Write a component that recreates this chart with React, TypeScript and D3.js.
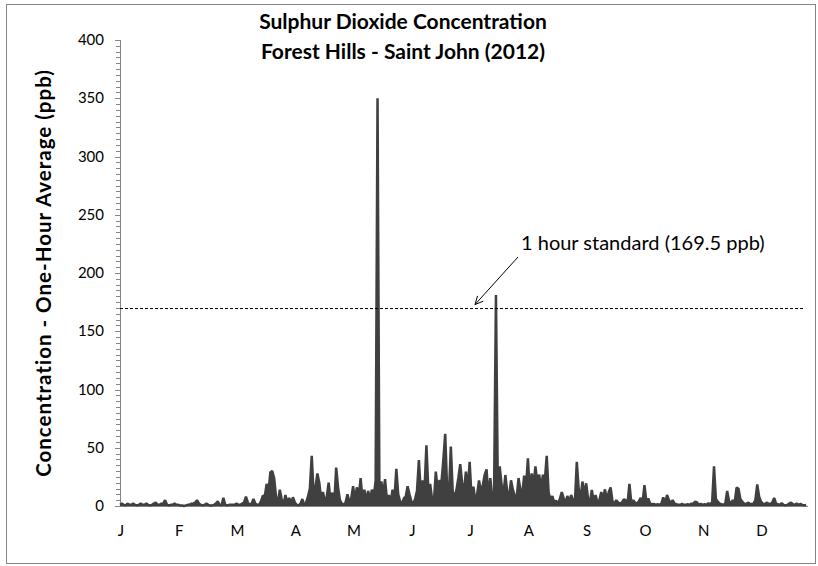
import React from 'react';
import * as d3 from 'd3';

// ---- data (daily maxima of one-hour SO2 averages, ppb) ----
const jan = [1, 2, 1, 0.5, 2, 1, 1, 2, 1, 0.5, 1, 2, 1, 1, 2, 1, 0.5, 1, 2, 3, 1, 1, 2, 2, 5, 1, 0.5, 1, 1, 2, 1];
const feb = [1, 0.5, 0.5, 0, 0.5, 1, 1, 2, 2, 3, 5, 2, 1, 0.5, 1, 2, 1, 0.5, 0.5, 1, 2, 4, 1, 0.5, 7, 1, 0.5, 1, 1];
const mar = [1, 1, 2, 1, 1, 2, 3, 8, 3, 1, 2, 6, 2, 1, 1, 4, 9, 8, 19, 12, 29, 30, 24, 8, 2, 14, 6, 1, 9.5, 3, 7];
const apr = [2, 7.5, 3, 1, 0.5, 2, 6, 1, 3, 8, 15, 43, 10, 16, 28, 20, 6, 12, 3, 8, 20, 4, 11.5, 2, 33, 16, 5, 2, 1, 3];
const may = [10, 4, 6, 17, 5, 16, 8, 24, 6, 14, 4, 13, 5, 14, 8, 22, 350, 12, 21, 10, 23, 5, 9.4, 3, 14, 6, 32, 10, 4, 2, 6.6];
const jun = [8, 17, 10, 4, 2, 6, 13, 39.5, 12, 22, 14, 52, 15, 19, 6, 4, 29.5, 14, 22, 20, 39.5, 62, 16, 10, 51, 12, 8, 14, 24, 36];
const jul = [20, 12, 29.5, 14, 38, 8, 16.6, 5, 10, 22, 12, 18, 26.6, 31.5, 8, 24, 6, 12, 181, 14, 34, 18, 10, 26.6, 12, 8, 22, 14, 9, 6, 24];
const aug = [14, 10, 26, 16, 41, 12, 28, 18, 34, 20, 27, 15, 27, 22, 43, 12, 5, 8.6, 3, 4.6, 2, 6, 12, 7, 3, 8.6, 4, 9.4, 5, 3, 38];
const sep = [15, 6, 21, 10, 19.5, 6, 3, 13.7, 4, 9.4, 3, 5, 12, 6, 14.3, 5, 12, 16, 4, 2, 5, 3, 2, 3, 5.7, 5, 2, 19, 3, 5];
const oct = [3, 2, 4, 7, 3, 18, 4, 6.6, 2, 1.5, 1.7, 1, 1.5, 1, 2, 7.4, 2, 9.4, 5, 2, 5, 2, 1.5, 1, 1, 1.7, 1, 1, 1.5, 1, 2];
const nov = [2, 3.7, 3, 1, 1.7, 1, 1.5, 1, 2.3, 1.5, 3, 34, 6, 3.7, 2, 1.5, 1, 2, 13, 4, 2, 5, 3, 15.7, 15, 6, 3.7, 2, 1.5, 2.9];
const dec = [2, 1.5, 2, 5, 18.6, 8, 3.7, 2, 1.5, 2.9, 2, 1.5, 3, 6.9, 2, 1.5, 1, 2.3, 1, 0.5, 1, 2, 2.9, 1.5, 1, 2, 1, 1.7, 1, 0.5, 1];

const monthLabels = ['J', 'F', 'M', 'A', 'M', 'J', 'J', 'A', 'S', 'O', 'N', 'D'];
const labelIntervalDays = 31;
const yTickValues = [0, 50, 100, 150, 200, 250, 300, 350, 400];
const yMinorStep = 5;
const standardValue = 169.5;
const titleLines = ['Sulphur Dioxide Concentration', 'Forest Hills - Saint John (2012)'];
const yTitle = 'Concentration - One-Hour Average (ppb)';
const annotation = '1 hour standard (169.5 ppb)';

const series = [...jan, ...feb, ...mar, ...apr, ...may, ...jun, ...jul, ...aug, ...sep, ...oct, ...nov, ...dec];

const FONT = "Lato, 'Open Sans', sans-serif";

export default function App() {
  const W = 818;
  const H = 566;
  const left = 120;
  const right = 808;
  const top = 40;
  const bottom = 506;

  const x = d3.scaleLinear().domain([0, 366]).range([left, right]);
  const y = d3.scaleLinear().domain([0, 400]).range([bottom, top]);

  const area = d3
    .area<number>()
    .x((_, i) => x(i))
    .y0(y(0))
    .y1((d) => y(d));
  const line = d3
    .line<number>()
    .x((_, i) => x(i))
    .y((d) => y(d));

  const minorTicks = d3.range(0, 400 + 0.001, yMinorStep);
  const axisColor = '#868686';
  const dataColor = '#404040';

  // annotation arrow geometry
  const ax1 = 518, ay1 = 257;
  const ax2 = 475, ay2 = y(standardValue) - 4;
  const ang = Math.atan2(ay1 - ay2, ax1 - ax2);
  const hl = 9;
  const hw = 0.45;
  const h1 = [ax2 + hl * Math.cos(ang - hw), ay2 + hl * Math.sin(ang - hw)];
  const h2 = [ax2 + hl * Math.cos(ang + hw), ay2 + hl * Math.sin(ang + hw)];

  return (
    <svg
      width={W}
      height={H}
      style={{ position: 'absolute', left: 0, top: 0, background: '#fff' }}
      fontFamily={FONT}
    >
      <rect x={0} y={0} width={W} height={H} fill="#fff" />
      <rect x={6.5} y={4.5} width={809} height={559} fill="none" stroke={axisColor} strokeWidth={1} />

      {/* title */}
      {titleLines.map((t, i) => (
        <text key={i} x={403} y={29 + i * 30} textAnchor="middle" fontSize={21} fontWeight="bold" fill="#000">
          {t}
        </text>
      ))}

      {/* y axis title */}
      <text
        transform={`translate(51, ${(top + bottom) / 2}) rotate(-90)`}
        textAnchor="middle"
        fontSize={20.5}
        letterSpacing={1}
        fontWeight="bold"
        fill="#000"
      >
        {yTitle}
      </text>

      {/* y axis */}
      <line x1={left + 0.5} x2={left + 0.5} y1={top} y2={bottom} stroke={axisColor} />
      {minorTicks.map((v) => (
        <line key={'m' + v} x1={left - 4} x2={left} y1={Math.round(y(v)) + 0.5} y2={Math.round(y(v)) + 0.5} stroke={axisColor} />
      ))}
      {yTickValues.map((v) => (
        <g key={'t' + v}>
          <line x1={left - 5} x2={left} y1={Math.round(y(v)) + 0.5} y2={Math.round(y(v)) + 0.5} stroke={axisColor} />
          <text x={104} y={y(v) + 5} textAnchor="end" fontSize={15} fill="#000">
            {v}
          </text>
        </g>
      ))}

      {/* x axis */}
      <line x1={left} x2={right} y1={bottom + 0.5} y2={bottom + 0.5} stroke={axisColor} />
      {monthLabels.map((m, i) => (
        <text key={'x' + i} x={x(i * labelIntervalDays) + 1} y={536} textAnchor="middle" fontSize={15} fill="#000">
          {m}
        </text>
      ))}

      {/* data */}
      <path d={area(series) || ''} fill={dataColor} />
      <path d={line(series) || ''} fill="none" stroke={dataColor} strokeWidth={2.5} strokeLinejoin="bevel" />

      {/* standard line */}
      <line
        x1={left}
        x2={x(364)}
        y1={y(standardValue)}
        y2={y(standardValue)}
        stroke="#000"
        strokeWidth={1}
        strokeDasharray="3,2"
      />

      {/* annotation */}
      <line x1={ax1} y1={ay1} x2={ax2} y2={ay2} stroke="#000" strokeWidth={1} />
      <polyline points={`${h1[0]},${h1[1]} ${ax2},${ay2} ${h2[0]},${h2[1]}`} fill="none" stroke="#000" strokeWidth={1} />
      <text x={521} y={250} fontSize={20} fill="#000">
        {annotation}
      </text>
    </svg>
  );
}
